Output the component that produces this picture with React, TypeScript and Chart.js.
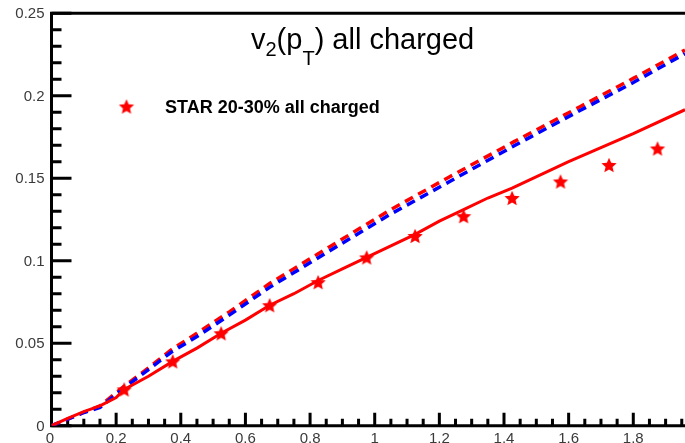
import React, { useEffect, useRef } from "react";
import { Chart, registerables } from "chart.js";

Chart.register(...registerables);

// STAR 20-30% all charged data points
const starX = [0.225, 0.375, 0.525, 0.675, 0.825, 0.975, 1.125, 1.275, 1.425, 1.575, 1.725, 1.875];
const starY = [0.022, 0.039, 0.056, 0.073, 0.087, 0.102, 0.115, 0.127, 0.138, 0.148, 0.158, 0.168];

// solid red curve
const solidX = [0, 0.05, 0.1, 0.15, 0.2, 0.225, 0.3, 0.375, 0.45, 0.525, 0.6, 0.675, 0.75, 0.825, 0.9, 0.975, 1.05, 1.125, 1.2, 1.275, 1.35, 1.425, 1.6, 1.8, 1.96];
const solidY = [0, 0.0045, 0.0085, 0.012, 0.017, 0.022, 0.030, 0.039, 0.047, 0.056, 0.064, 0.073, 0.080, 0.088, 0.095, 0.102, 0.109, 0.116, 0.124, 0.131, 0.138, 0.144, 0.160, 0.177, 0.1915];

// dashed red curve
const redDashX = [0, 0.1, 0.15, 0.225, 0.3, 0.37, 0.45, 0.55, 0.676, 0.861, 1.047, 1.232, 1.43, 1.635, 1.8, 1.96];
const redDashY = [0, 0.008, 0.012, 0.024, 0.035, 0.046, 0.056, 0.069, 0.0863, 0.1085, 0.1307, 0.1509, 0.172, 0.1933, 0.2105, 0.2277];

// dashed blue curve
const blueDashX = [0, 0.1, 0.15, 0.225, 0.3, 0.37, 0.45, 0.55, 0.676, 0.861, 1.047, 1.232, 1.43, 1.635, 1.8, 1.96];
const blueDashY = [0, 0.008, 0.011, 0.023, 0.034, 0.0445, 0.054, 0.067, 0.084, 0.106, 0.128, 0.148, 0.1695, 0.191, 0.208, 0.2255];

// axis ticks
const xMajorTicks = [0, 0.2, 0.4, 0.6, 0.8, 1, 1.2, 1.4, 1.6, 1.8];
const xTickLabels = ["0", "0.2", "0.4", "0.6", "0.8", "1", "1.2", "1.4", "1.6", "1.8"];
const yMajorTicks = [0, 0.05, 0.1, 0.15, 0.2, 0.25];
const yTickLabels = ["0", "0.05", "0.1", "0.15", "0.2", "0.25"];
const xMinorStep = 0.05;
const yMinorStep = 0.01;
const xMin = 0;
const xMax = 1.96;
const yMin = 0;
const yMax = 0.25;

const legendLabel = "STAR 20-30% all charged";

function zip(xs: number[], ys: number[]) {
  return xs.map((x, i) => ({ x, y: ys[i] }));
}

function makeStar(r: number): HTMLCanvasElement {
  const size = Math.ceil(r * 2 + 2);
  const c = document.createElement("canvas");
  c.width = size;
  c.height = size;
  const ctx = c.getContext("2d")!;
  ctx.fillStyle = "#ff0000";
  ctx.beginPath();
  const cx = size / 2;
  const cy = size / 2 + r * 0.1;
  for (let i = 0; i < 10; i++) {
    const a = -Math.PI / 2 + (i * Math.PI) / 5;
    const rad = i % 2 === 0 ? r : r * 0.46;
    const px = cx + rad * Math.cos(a);
    const py = cy + rad * Math.sin(a);
    if (i === 0) ctx.moveTo(px, py);
    else ctx.lineTo(px, py);
  }
  ctx.closePath();
  ctx.fill();
  return c;
}

export default function App() {
  const ref = useRef<HTMLCanvasElement | null>(null);

  useEffect(() => {
    if (!ref.current) return;
    const star = makeStar(8);
    const FONT = '"Liberation Sans", Arial, sans-serif';

    const axesPlugin = {
      id: "axesPlugin",
      beforeDatasetsDraw(chart: any) {
        const ctx = chart.ctx as CanvasRenderingContext2D;
        const xs = chart.scales.x;
        const ys = chart.scales.y;
        ctx.save();
        ctx.strokeStyle = "#000";
        ctx.lineWidth = 3;
        ctx.lineCap = "butt";
        const x0 = xs.getPixelForValue(xMin);
        const y0 = ys.getPixelForValue(yMin);
        const yTop = ys.getPixelForValue(yMax);
        // axes lines
        ctx.beginPath();
        ctx.moveTo(x0, yTop - 1.5);
        ctx.lineTo(x0, y0 + 1.5);
        ctx.moveTo(x0 - 1.5, y0);
        ctx.lineTo(chart.width, y0);
        ctx.moveTo(x0 - 1.5, yTop);
        ctx.lineTo(chart.width, yTop);
        ctx.stroke();
        // y ticks
        ctx.beginPath();
        const nY = Math.round((yMax - yMin) / yMinorStep);
        for (let i = 0; i <= nY; i++) {
          const v = yMin + i * yMinorStep;
          const isMajor = i % 5 === 0;
          const py = ys.getPixelForValue(v);
          ctx.moveTo(x0, py);
          ctx.lineTo(x0 + (isMajor ? 20 : 10), py);
        }
        // x ticks
        const nX = Math.floor((xMax - xMin) / xMinorStep + 1e-6);
        for (let i = 0; i <= nX; i++) {
          const v = xMin + i * xMinorStep;
          const isMajor = i % 4 === 0;
          const px = xs.getPixelForValue(v);
          ctx.moveTo(px, y0);
          ctx.lineTo(px, y0 - (isMajor ? 13 : 7));
        }
        ctx.stroke();
        // labels
        ctx.fillStyle = "#3a3a3a";
        ctx.font = "15px " + FONT;
        ctx.textAlign = "right";
        ctx.textBaseline = "middle";
        yMajorTicks.forEach((v, i) => {
          ctx.fillText(yTickLabels[i], x0 - 7, ys.getPixelForValue(v) + 1);
        });
        ctx.textAlign = "center";
        ctx.textBaseline = "alphabetic";
        xMajorTicks.forEach((v, i) => {
          const px = xs.getPixelForValue(v) - (i === 0 ? 1.5 : 0);
          ctx.fillText(xTickLabels[i], px, y0 + 17);
        });
        ctx.restore();
      },
      afterDraw(chart: any) {
        const ctx = chart.ctx as CanvasRenderingContext2D;
        ctx.save();
        ctx.fillStyle = "#000";
        ctx.textBaseline = "alphabetic";
        ctx.textAlign = "left";
        // title: v_2(p_T) all charged
        const big = "29px " + FONT;
        const small = "20px " + FONT;
        const base = 49;
        let x = 251;
        const part = (t: string, f: string, dy: number) => {
          ctx.font = f;
          ctx.fillText(t, x, base + dy);
          x += ctx.measureText(t).width;
        };
        part("v", big, 0);
        part("2", small, 7);
        part("(p", big, 0);
        part("T", small, 16);
        part(") all charged", big, 0);
        // legend
        ctx.drawImage(star, 126.5 - star.width / 2, 106.5 - star.height / 2);
        ctx.font = "bold 18px " + FONT;
        ctx.fillText(legendLabel, 165, 112.5);
        ctx.restore();
      },
    };

    const chart = new Chart(ref.current, {
      type: "line",
      data: {
        datasets: [
          {
            label: legendLabel,
            data: zip(starX, starY),
            showLine: false,
            pointStyle: star as any,
            pointRadius: 8,
            borderColor: "#ff0000",
            backgroundColor: "#ff0000",
          },
          {
            label: "solid",
            data: zip(solidX, solidY),
            borderColor: "#ff0000",
            borderWidth: 3,
            pointRadius: 0,
            tension: 0,
          },
          {
            label: "blue dashed",
            data: zip(blueDashX, blueDashY),
            borderColor: "#0000ff",
            borderWidth: 3.5,
            borderDash: [9, 6],
            pointRadius: 0,
            tension: 0,
          },
          {
            label: "red dashed",
            data: zip(redDashX, redDashY),
            borderColor: "#ff0000",
            borderWidth: 3.5,
            borderDash: [9, 6],
            pointRadius: 0,
            tension: 0,
          },
        ],
      },
      options: {
        animation: false,
        responsive: false,
        maintainAspectRatio: false,
        layout: { autoPadding: false, padding: { top: 13.2, left: 0, right: 0, bottom: 0 } },
        plugins: {
          legend: { display: false },
          tooltip: { enabled: false },
          title: { display: false },
        },
        scales: {
          x: {
            type: "linear",
            min: xMin,
            max: xMax,
            grid: { display: false },
            border: { display: false },
            ticks: { display: false },
            afterFit: (s: any) => {
              s.height = 17.3;
            },
          },
          y: {
            type: "linear",
            min: yMin,
            max: yMax,
            grid: { display: false },
            border: { display: false },
            ticks: { display: false },
            afterFit: (s: any) => {
              s.width = 51.5;
            },
          },
        },
      } as any,
      plugins: [axesPlugin],
    });
    return () => chart.destroy();
  }, []);

  return (
    <div style={{ position: "absolute", left: 0, top: 0, width: 685, height: 443, background: "#fff" }}>
      <canvas ref={ref} width={685} height={443} style={{ display: "block" }} />
    </div>
  );
}
